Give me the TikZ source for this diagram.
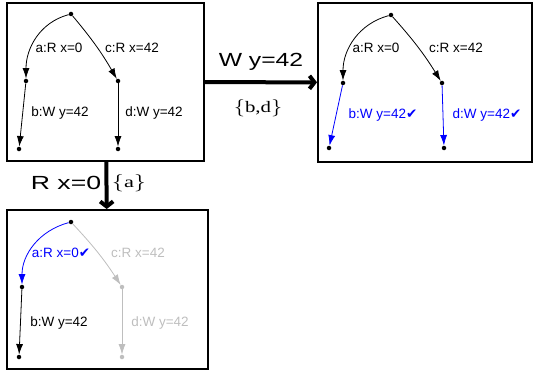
\documentclass[tikz,border=0pt]{standalone}
\usepackage{fontspec}
\usepackage{graphicx}
\setmainfont{Liberation Serif}
\setsansfont{Liberation Sans}
\newfontfamily\ckfont{DejaVu Sans}
\usetikzlibrary{arrows.meta}
\newcommand{\okmark}{{\ckfont ✔}}
\definecolor{done}{RGB}{0,0,255}
\definecolor{idle}{RGB}{190,190,190}
\tikzset{
  pt/.style={circle,fill,inner sep=0pt,minimum size=4.5pt},
  ev/.style={-{Latex[length=10.5pt,width=7pt]},line width=0.8pt},
  lab/.style={font=\sffamily\fontsize{13.5}{16}\selectfont,inner sep=0pt},
  box/.style={draw,line width=2pt,inner sep=0pt},
  move/.style={line width=4pt,-{Straight Barb[length=5pt,width=13pt]}},
  big/.style={font=\sffamily\fontsize{19}{22}\selectfont,inner sep=0pt},
  set/.style={font=\fontsize{16}{19}\selectfont,inner sep=0pt},
}
\begin{document}
\begin{tikzpicture}[x=1pt,y=1pt]
\useasboundingbox (0,0) rectangle (537,370);
% states
\node[box,minimum width=197pt,minimum height=158pt] (s0) at (105.5,288) {};
\node[box,minimum width=214pt,minimum height=159pt] (s1) at (425,287.5) {};
\node[box,minimum width=201pt,minimum height=159pt] (s2) at (107.5,80.5) {};
% transitions
\draw[move] (s0) -- (s1);
\draw[move] (s0) -- (s2);
\node[big] (w) at (261,308) {\scalebox{1.3}[1]{W y=42}};
\node[set] (wset) at (258,262) {\scalebox{1.3}[1]{$\{$b,d$\}$}};
\node[big] (r) at (66,187) {\scalebox{1.4}[1]{R x=0}};
\node[set] (rset) at (129,187) {\scalebox{1.4}[1]{$\{$a$\}$}};
% state 0
\node[pt] (r0) at (71,356) {};
\node[pt] (a0) at (26,289) {};
\node[pt] (c0) at (118,289) {};
\node[pt] (b0) at (19,221) {};
\node[pt] (d0) at (118,221) {};
\draw[ev] (r0) to[out=195,in=90] (a0);
\draw[ev] (r0) to[bend left=5] (c0);
\draw[ev] (a0) -- (b0);
\draw[ev] (c0) -- (d0);
\node[lab] (la0) at (59,322) {a:R x=0};
\node[lab] (lc0) at (132,322) {c:R x=42};
\node[lab] (lb0) at (60,257) {b:W y=42};
\node[lab] (ld0) at (154,257) {d:W y=42};
% state 1
\node[pt] (r1) at (391,355) {};
\node[pt] (a1) at (343,287) {};
\node[pt] (c1) at (442,287) {};
\node[pt] (b1) at (329,222) {};
\node[pt] (d1) at (444,222) {};
\draw[ev] (r1) to[out=195,in=90] (a1);
\draw[ev] (r1) to[bend left=5] (c1);
\draw[ev,done] (a1) -- (b1);
\draw[ev,done] (c1) -- (d1);
\node[lab] (la1) at (376,322) {a:R x=0};
\node[lab] (lc1) at (456,322) {c:R x=42};
\node[lab,done] (lb1) at (383,255) {b:W y=42\okmark};
\node[lab,done] (ld1) at (487,255) {d:W y=42\okmark};
% state 2
\node[pt] (r2) at (71,148) {};
\node[pt] (a2) at (22,83) {};
\node[pt,idle] (c2) at (122,83) {};
\node[pt] (b2) at (19,13) {};
\node[pt,idle] (d2) at (122,13) {};
\draw[ev,done] (r2) to[out=195,in=90] (a2);
\draw[ev,idle] (r2) to[bend left=5] (c2);
\draw[ev] (a2) -- (b2);
\draw[ev,idle] (c2) -- (d2);
\node[lab,done] (la2) at (61,117) {a:R x=0\okmark};
\node[lab,idle] (lc2) at (138,117) {c:R x=42};
\node[lab] (lb2) at (59,47) {b:W y=42};
\node[lab,idle] (ld2) at (160,47) {d:W y=42};
\end{tikzpicture}
\end{document}
